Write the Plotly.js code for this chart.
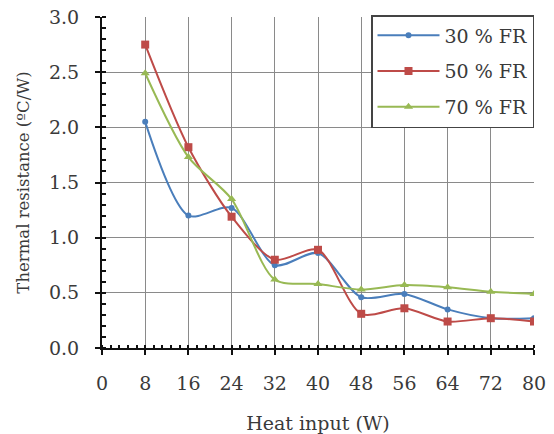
<!DOCTYPE html>
<html><head><meta charset="utf-8">
<script src="https://cdn.plot.ly/plotly-3.0.1.min.js"></script>
<style>html,body{margin:0;padding:0;background:#fff}</style>
</head><body><div id="chart" style="width:554px;height:434px"></div>
<script>
const heatInput = [8, 16, 24, 32, 40, 48, 56, 64, 72, 80];
const fr30 = [2.05, 1.20, 1.27, 0.75, 0.86, 0.46, 0.49, 0.35, 0.27, 0.27];
const fr50 = [2.75, 1.82, 1.19, 0.80, 0.89, 0.31, 0.36, 0.24, 0.27, 0.24];
const fr70 = [2.49, 1.73, 1.35, 0.62, 0.58, 0.53, 0.57, 0.55, 0.51, 0.49];
const seriesNames = ['30 % FR', '50 % FR', '70 % FR'];
const xTicks = [0, 8, 16, 24, 32, 40, 48, 56, 64, 72, 80];

const font = 'DejaVu Serif, serif';
const txt = '#3a3a3a';
const mk = (y, name, color, symbol, size) => ({
  x: heatInput, y: y, name: name, legendgroup: name, type: 'scatter', mode: 'lines+markers',
  line: {color: color, width: 2, shape: 'spline', smoothing: 0.8},
  marker: {color: color, symbol: symbol, size: size}
});
const data = [
  mk(fr30, seriesNames[0], '#4a7ebb', 'circle', 6),
  mk(fr50, seriesNames[1], '#be4b48', 'square', 8),
  mk(fr70, seriesNames[2], '#98b954', 'triangle-up', 8)
];
const layout = {
  width: 554, height: 434,
  margin: {l: 102, r: 20, t: 17, b: 86},
  paper_bgcolor: '#fff', plot_bgcolor: '#fff',
  font: {family: font, color: txt, size: 18},
  showlegend: true,
  legend: {x: 1, xanchor: 'right', y: 1.006, yanchor: 'top',
    bordercolor: '#444', borderwidth: 1.5, bgcolor: '#fff', itemwidth: 62,
    font: {family: font, size: 19, color: txt}, tracegroupgap: 8},
  xaxis: {
    range: [0, 80], tickvals: xTicks, ticktext: xTicks.map(String),
    showgrid: true, gridcolor: '#8a8a8a', gridwidth: 1.2,
    showline: true, linecolor: '#111', linewidth: 2,
    ticks: 'outside', ticklen: 5, tickcolor: '#111', tickwidth: 2,
    ticklabelstandoff: 12,
    minor: {dtick: 1.6, ticks: 'inside', ticklen: 3, tickcolor: '#111', showgrid: false},
    tickfont: {family: font, size: 19, color: txt},
    zeroline: false,
    title: {text: 'Heat input (W)', font: {family: font, size: 19, color: txt}, standoff: 24}
  },
  yaxis: {
    range: [0, 3], dtick: 0.5, tickformat: '.1f',
    showgrid: true, gridcolor: '#8a8a8a', gridwidth: 1.2,
    showline: true, linecolor: '#111', linewidth: 2,
    ticks: 'outside', ticklen: 5, tickcolor: '#111', tickwidth: 2,
    ticklabelstandoff: 12,
    minor: {dtick: 0.1, ticks: 'inside', ticklen: 4, tickcolor: '#111', showgrid: false},
    tickfont: {family: font, size: 19, color: txt},
    zeroline: false,
    title: {text: 'Thermal resistance (ºC/W)', font: {family: font, size: 16.5, color: txt}, standoff: 15}
  }
};
Plotly.newPlot('chart', data, layout, {displayModeBar: false});
</script></body></html>
